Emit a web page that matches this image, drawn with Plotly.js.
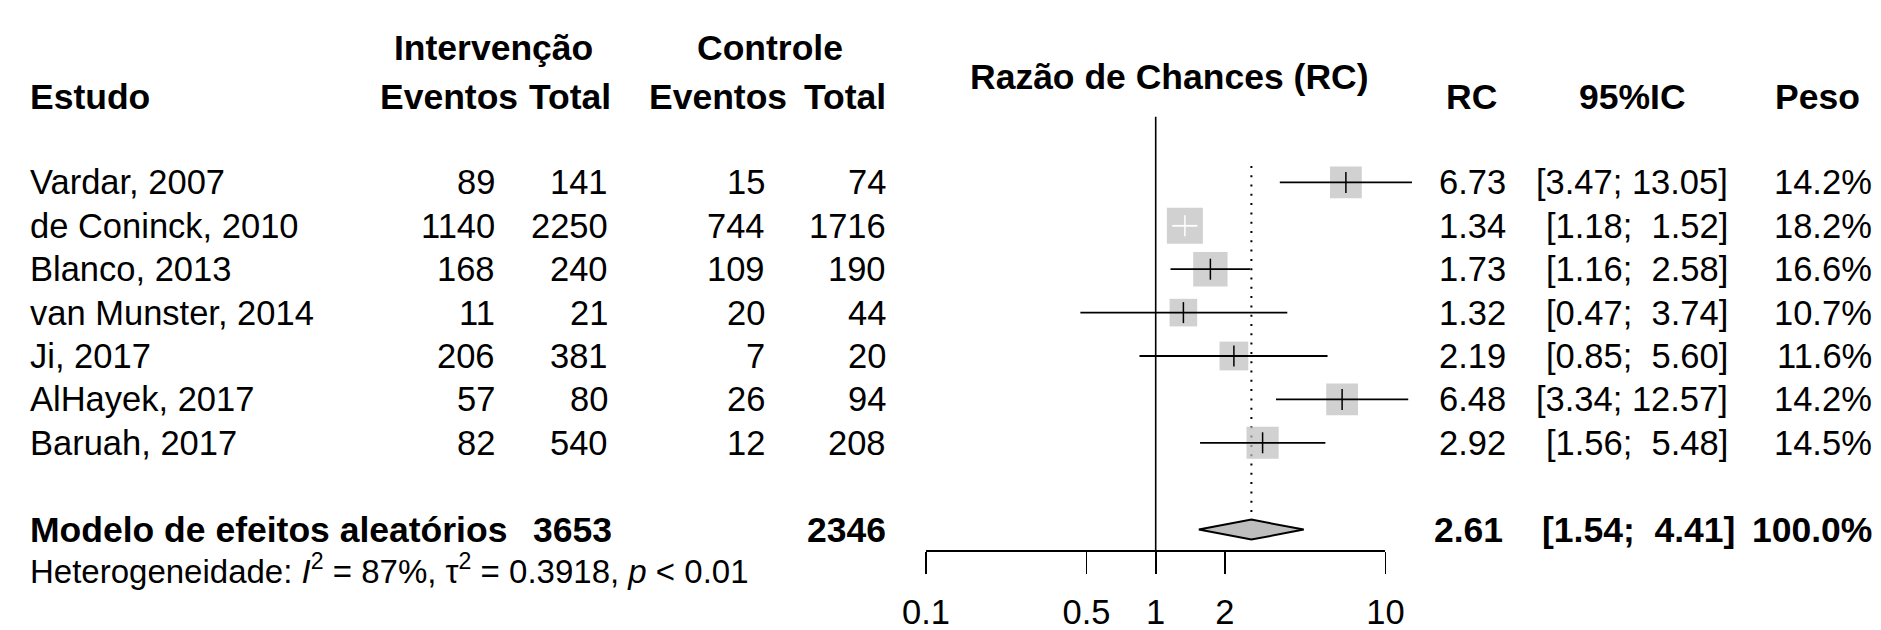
<!DOCTYPE html>
<html><head><meta charset="utf-8">
<script src="https://cdn.plot.ly/plotly-3.0.1.min.js"></script>
<style>html,body{margin:0;padding:0;background:#fff}</style>
</head><body><div id="chart" style="width:1881px;height:630px"></div>
<script>
// ---------------- data ----------------
const studies = ["Vardar, 2007","de Coninck, 2010","Blanco, 2013","van Munster, 2014","Ji, 2017","AlHayek, 2017","Baruah, 2017"];
const eventsInt = [89,1140,168,11,206,57,82];
const totalInt = [141,2250,240,21,381,80,540];
const eventsCtrl = [15,744,109,20,7,26,12];
const totalCtrl = [74,1716,190,44,20,94,208];
const oddsRatio = [6.73,1.34,1.73,1.32,2.19,6.48,2.92];
const ciLower = [3.47,1.18,1.16,0.47,0.85,3.34,1.56];
const ciUpper = [13.05,1.52,2.58,3.74,5.60,12.57,5.48];
const weights = [14.2,18.2,16.6,10.7,11.6,14.2,14.5];
const summaryLabel = "Modelo de efeitos aleatórios";
const summaryTotalInt = 3653;
const summaryTotalCtrl = 2346;
const summaryOR = 2.61;
const summaryLower = 1.54;
const summaryUpper = 4.41;
const summaryWeight = 100.0;
const hetI2 = 87;
const hetTau2 = 0.3918;
const hetP = "< 0.01";
const tickVals = [0.1,0.5,1,2,10];
const tickText = ["0.1","0.5","1","2","10"];
const headerTop = ["Intervenção","Controle"];
const headerCols = ["Estudo","Eventos","Total","Eventos","Total","RC","95%IC","Peso"];
const plotTitle = "Razão de Chances (RC)";

// ---------------- geometry ----------------
const W = 1881, H = 630;
const X1 = 1155.7, DEC = 229.7;      // pixel of OR=1, pixels per decade
const Y0 = 182.4, ROW = 43.4;        // pixel of first study row, row height
const AXIS_PX = 550;
const FONT = "Liberation Sans, Arial, Helvetica, sans-serif";
const FS = 34.5, FSB = 35.5;
const GREY = "#BEBEBE";

const rows = studies.map((s,i)=>i);
const sumRow = studies.length + 1;
const hetRow = sumRow + 0.9;
const hdr2 = -1.97, hdr1 = -3.1, titleRow = -2.42;

const px = p => p / W;
const ann = (xp, y, text, anchor, bold, size) => ({
  xref:'paper', yref:'y', x: px(xp), y: y, text: bold ? '<b>'+text+'</b>' : text,
  xanchor: anchor, yanchor:'middle', showarrow:false,
  font:{family:FONT, size: size || (bold?FSB:FS), color:'#000'}
});
const nb = s => s.replace(/ /g,'\u00A0');
const f2 = v => v.toFixed(2);
const ciText = (lo, up) => nb('[' + f2(lo) + '; ' + f2(up).padStart(5,' ') + ']');

const annotations = [];
// headers
annotations.push(ann(493, hdr1, headerTop[0], 'center', true));
annotations.push(ann(770, hdr1, headerTop[1], 'center', true));
annotations.push(ann(1169, titleRow, plotTitle, 'center', true));
annotations.push(ann(28, hdr2, headerCols[0], 'left', true));
annotations.push(ann(520, hdr2, headerCols[1], 'right', true));
annotations.push(ann(613, hdr2, headerCols[2], 'right', true));
annotations.push(ann(789, hdr2, headerCols[3], 'right', true));
annotations.push(ann(888, hdr2, headerCols[4], 'right', true));
annotations.push(ann(1499, hdr2, headerCols[5], 'right', true));
annotations.push(ann(1632, hdr2, headerCols[6], 'center', true));
annotations.push(ann(1862, hdr2, headerCols[7], 'right', true));
// study rows
studies.forEach((s,i)=>{
  annotations.push(ann(28, i, s, 'left'));
  annotations.push(ann(497, i, String(eventsInt[i]), 'right'));
  annotations.push(ann(610, i, String(totalInt[i]), 'right'));
  annotations.push(ann(767, i, String(eventsCtrl[i]), 'right'));
  annotations.push(ann(888, i, String(totalCtrl[i]), 'right'));
  annotations.push(ann(1508, i, f2(oddsRatio[i]), 'right'));
  annotations.push(ann(1730, i, ciText(ciLower[i], ciUpper[i]), 'right'));
  annotations.push(ann(1874, i, weights[i].toFixed(1)+'%', 'right'));
});
// summary row
annotations.push(ann(28, sumRow, summaryLabel, 'left', true));
annotations.push(ann(614, sumRow, String(summaryTotalInt), 'right', true));
annotations.push(ann(888, sumRow, String(summaryTotalCtrl), 'right', true));
annotations.push(ann(1505, sumRow, f2(summaryOR), 'right', true));
annotations.push(ann(1737, sumRow, ciText(summaryLower, summaryUpper), 'right', true));
annotations.push(ann(1874, sumRow, summaryWeight.toFixed(1)+'%', 'right', true));
// heterogeneity
annotations.push(ann(28, hetRow,
  'Heterogeneidade: <i>I</i><sup>2</sup> = ' + hetI2 + '%, τ<sup>2</sup> = ' + hetTau2 +
  ', <i>p</i> ' + hetP.replace('<','&lt;'), 'left', false, 33));

// ---------------- marks ----------------
const maxW = Math.max(...weights);
const sides = weights.map(w => 36 * Math.sqrt(w / maxW));
const inside = rows.map(i => (Math.log10(ciUpper[i]) - Math.log10(ciLower[i])) * DEC < sides[i]);

function segs(filter){
  const x=[], y=[];
  rows.forEach(i=>{ if(filter(i)){ x.push(ciLower[i], ciUpper[i], null); y.push(i, i, null); } });
  return {x, y};
}
const blackSeg = segs(i=>!inside[i]);
const whiteSeg = segs(i=>inside[i]);
const dh = 0.23;

const traces = [
  { // line of no effect, on visible axis
    x:[1,1], y:[-1.514, (AXIS_PX - Y0)/ROW], xaxis:'x', yaxis:'y', mode:'lines',
    line:{color:'#000', width:1.6}, hoverinfo:'skip'
  },
  { // dotted summary line
    x:[summaryOR, summaryOR], y:[-0.38, sumRow - dh], xaxis:'x2', yaxis:'y', mode:'lines',
    line:{color:'#000', width:2, dash:'2px,7.3px'}, hoverinfo:'skip'
  },
  { // squares
    x: oddsRatio, y: rows, xaxis:'x2', yaxis:'y', mode:'markers',
    marker:{symbol:'square', size: sides, color: GREY, line:{width:0}}, hoverinfo:'skip'
  },
  {
    x: blackSeg.x, y: blackSeg.y, xaxis:'x2', yaxis:'y', mode:'lines',
    line:{color:'#000', width:1.8}, connectgaps:false, hoverinfo:'skip'
  },
  {
    x: whiteSeg.x, y: whiteSeg.y, xaxis:'x2', yaxis:'y', mode:'lines',
    line:{color:'#fff', width:1.8}, connectgaps:false, hoverinfo:'skip'
  },
  { // estimate ticks
    x: oddsRatio, y: rows, xaxis:'x2', yaxis:'y', mode:'markers',
    marker:{symbol:'line-ns', size:15, color:'rgba(0,0,0,0)',
      line:{width:1.5, color: rows.map(i => inside[i] ? '#fff' : '#000')}}, hoverinfo:'skip'
  },
  { // diamond
    x:[summaryLower, summaryOR, summaryUpper, summaryOR, summaryLower],
    y:[sumRow, sumRow - dh, sumRow, sumRow + dh, sumRow],
    xaxis:'x2', yaxis:'y', mode:'lines', fill:'toself', fillcolor: GREY,
    line:{color:'#000', width:2}, hoverinfo:'skip'
  }
];

const layout = {
  width: W, height: H,
  margin:{l:0, r:0, t:0, b:0, pad:0},
  paper_bgcolor:'#fff', plot_bgcolor:'rgba(0,0,0,0)',
  showlegend:false,
  font:{family:FONT, color:'#000', size:FS},
  xaxis:{
    type:'log', domain:[(X1-DEC)/W, (X1+DEC)/W], range:[-1, 1],
    anchor:'free', position:(H - AXIS_PX)/H,
    showline:true, linecolor:'#000', linewidth:1.8,
    ticks:'outside', ticklen:22, tickwidth:1.8, tickcolor:'#000',
    tickmode:'array', tickvals: tickVals, ticktext: tickText,
    ticklabelstandoff: 9,
    tickfont:{family:FONT, size:FS, color:'#000'},
    showgrid:false, zeroline:false, fixedrange:true
  },
  xaxis2:{
    type:'log', domain:[0,1], range:[(0 - X1)/DEC, (W - X1)/DEC],
    anchor:'y', visible:false, showgrid:false, zeroline:false, fixedrange:true
  },
  yaxis:{
    domain:[0,1], range:[(H - Y0)/ROW, -Y0/ROW], visible:false,
    showgrid:false, zeroline:false, fixedrange:true
  },
  annotations: annotations
};

Plotly.newPlot('chart', traces, layout, {staticPlot:true, displayModeBar:false});
</script>
</body></html>
